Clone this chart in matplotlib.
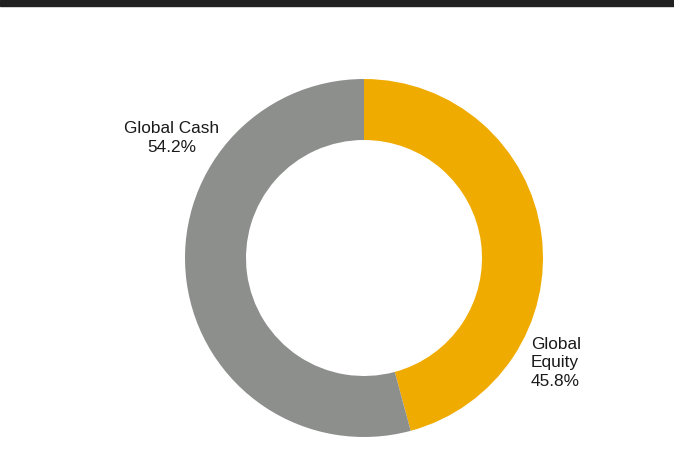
import matplotlib.pyplot as plt
from matplotlib.patches import Rectangle

# 数据
labels = ['Global Equity', 'Global Cash']
values = [45.8, 54.2]
colors = ['#f0ab00', '#8d8f8d']

plt.rcParams['font.family'] = ['Liberation Sans', 'DejaVu Sans']

fig = plt.figure(figsize=(6.74, 4.73), dpi=100)
ax = fig.add_axes([0, 0, 1, 1])

# 环形图，从12点方向顺时针
ax.pie(values, colors=colors, startangle=90, counterclock=False,
       center=(364, 215), radius=179,
       wedgeprops=dict(width=61, edgecolor='none'), frame=True)
ax.set_xlim(0, 674)
ax.set_ylim(0, 473)
ax.set_aspect('equal')
ax.axis('off')

ax.text(172, 335, 'Global Cash\n%.1f%%' % values[1], ha='center', va='center',
        fontsize=12.4, linespacing=1.32, color='#1a1a1a')
ax.text(531, 110, 'Global\nEquity\n%.1f%%' % values[0], ha='left', va='center',
        fontsize=12.4, linespacing=1.3, color='#1a1a1a')

# 顶部深色条
fig.patches.append(Rectangle((0, 1 - 6 / 473), 1, 6 / 473, transform=fig.transFigure,
                             color='#212121', zorder=10))

fig.savefig('out.png', dpi=100)
